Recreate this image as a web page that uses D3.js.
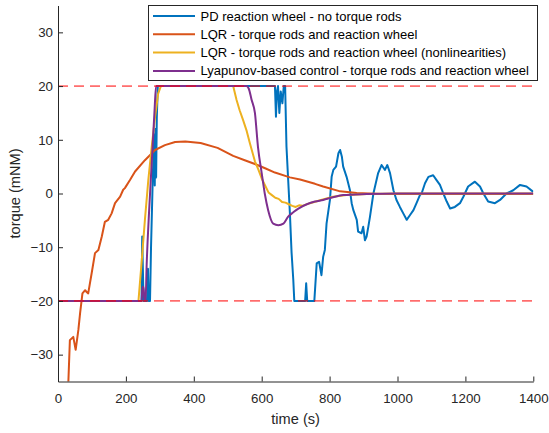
<!DOCTYPE html>
<html>
<head>
<meta charset="utf-8">
<script src="https://cdn.jsdelivr.net/npm/d3@7"></script>
<style>
  body { margin: 0; background: #fff; }
  svg { display: block; font-family: "Liberation Sans", Arial, sans-serif; }
</style>
</head>
<body>
<div id="chart"></div>
<script>
// series data (time in s, torque in mNM)
var pdT = [0, 246, 248, 250, 252, 254, 262, 265, 267, 271, 274, 278, 281, 283, 285, 287, 289, 291, 294, 636, 639, 642, 645, 648, 652, 656, 661, 665, 669, 673, 678, 683, 688, 693, 696, 728, 731, 734, 755, 762, 769, 776, 781, 786, 791, 801, 806, 811, 819, 826, 831, 836, 840, 850, 860, 865, 870, 880, 884, 894, 899, 904, 909, 914, 919, 929, 936, 943, 953, 963, 970, 978, 988, 997, 1007, 1017, 1027, 1037, 1047, 1056, 1066, 1071, 1081, 1091, 1105, 1115, 1125, 1135, 1145, 1155, 1169, 1184, 1194, 1208, 1228, 1243, 1253, 1267, 1287, 1302, 1321, 1341, 1361, 1380, 1400];
var pdV = [-20, -20, -8, -14, -20, -20, -20, -14, -20, -20, -10, 0, 7, 11, 1.5, 12, 3, 14, 20, 20, 20, 14.3, 19, 20, 15, 19, 16.8, 20, 20, 8.7, 2.5, -3.6, -11, -16, -20, -20, -16.7, -20, -20, -13, -12.7, -15.2, -11.8, -10.5, -5.6, -1.2, 3.1, 4.4, 5, 7.5, 8.1, 6.9, 5, 3.1, 0.6, -1.8, -3.1, -4.9, -7.1, -7.4, -6.2, -8.7, -8, -6.2, -4.3, 0, 1.9, 3.8, 5.3, 4.4, 5.3, 3.8, 0.6, -1.2, -2.5, -3.7, -4.9, -4, -3.1, -1.8, -0.3, 0, 1.9, 3.1, 3.4, 2.5, 1.6, 0, -1.5, -2.8, -2.5, -1.8, -0.6, 1.3, 2.2, 1.3, 0, -1.5, -1.8, -1.2, 0, 0.6, 1.6, 1.3, 0.3];

var lqrT = [28, 30, 35, 45, 52, 60, 65, 72, 80, 85, 89, 99, 109, 119, 129, 138, 148, 158, 168, 183, 192, 197, 212, 227, 256, 286, 315, 345, 375, 420, 470, 516, 550, 580, 610, 639, 683, 713, 757, 781, 831, 880, 950, 1400];
var lqrV = [-40, -36, -27.3, -26.7, -29.1, -25.4, -22.3, -18.6, -18, -18.4, -18.6, -14.9, -11.1, -10.5, -8, -5.3, -4.9, -3.7, -1.8, -0.6, 0.7, 1, 2.5, 4.1, 6.2, 8.1, 9, 9.6, 9.7, 9.4, 8.5, 7, 6.2, 5.5, 4.7, 3.9, 3, 2.6, 1.8, 1.3, 0.4, 0.1, -0.1, -0.1];

var lqrNlT = [0, 237, 246, 256, 266, 276, 286, 295, 303, 516, 526, 535, 545, 555, 565, 580, 590, 600, 610, 620, 630, 640, 650, 660, 670, 680, 690, 700, 710, 720, 742, 760, 780, 810, 850, 909, 1000, 1400];
var lqrNlV = [-20, -20, -13, -4.9, 2.5, 8.7, 14.3, 18.6, 20, 20, 17.4, 15.5, 13.7, 11.8, 9.4, 6, 4.5, 2.8, 1.5, 0.2, -0.3, -0.8, -1, -1.6, -1.7, -2, -2.3, -2.5, -2.2, -2.3, -1.8, -1.5, -1.1, -0.6, -0.3, -0.1, 0, 0];

var lyapT = [0, 246, 249, 252, 255, 258, 261, 268, 276, 284, 289, 555, 562, 570, 580, 589, 600, 609, 619, 634, 649, 664, 678, 693, 708, 733, 757, 781, 810, 840, 909, 1000, 1400];
var lyapV = [-20, -20, -17.4, -17.4, -20, -20, -13.6, -3.7, 5.6, 15, 20, 20, 19.5, 17.5, 15, 8.7, 3.8, 0, -3.1, -5.6, -5.9, -5.6, -4.3, -3.5, -2.8, -2, -1.5, -1.2, -0.7, -0.3, -0.1, 0, 0];

var seriesNames = ["PD reaction wheel - no torque rods", "LQR - torque rods and reaction wheel", "LQR - torque rods and reaction wheel (nonlinearities)", "Lyapunov-based control - torque rods and reaction wheel"];
var seriesColors = ["#0072BD", "#D95319", "#EDB120", "#7E2F8E"];
var limitValues = [20, -20];
var xTicks = [0, 200, 400, 600, 800, 1000, 1200, 1400];
var yTicks = [-30, -20, -10, 0, 10, 20, 30];

var W = 549, H = 433;
var margin = {top: 5.5, right: 15.7, bottom: 51.5, left: 58},
  width = W - margin.left - margin.right,
  height = H - margin.top - margin.bottom;

var svg = d3.select("#chart").append("svg")
  .attr("width", W)
  .attr("height", H)
  .append("g")
  .attr("transform", "translate(" + margin.left + "," + margin.top + ")");

var x = d3.scaleLinear().domain([0, 1400]).range([0, width]);
var y = d3.scaleLinear().domain([-35, 35]).range([height, 0]);

svg.append("clipPath").attr("id", "clip")
  .append("rect").attr("width", width).attr("height", height);

function zip(t, v) { return t.map(function(d, i) { return {t: d, v: v[i]}; }); }
var series = [zip(pdT, pdV), zip(lqrT, lqrV), zip(lqrNlT, lqrNlV), zip(lyapT, lyapV)];

var line = d3.line().x(function(d) { return x(d.t); }).y(function(d) { return y(d.v); });

var plot = svg.append("g").attr("clip-path", "url(#clip)");
plot.selectAll(".series")
  .data(series)
  .enter()
  .append("path")
  .attr("d", function(d, i) { return i == 3 ? line.curve(d3.curveMonotoneX)(d) : line.curve(d3.curveLinear)(d); })
  .attr("fill", "none")
  .attr("stroke", function(d, i) { return seriesColors[i]; })
  .attr("stroke-width", 2)
  .attr("stroke-linejoin", "round");

// limit lines
plot.selectAll(".limit")
  .data(limitValues)
  .enter()
  .append("line")
  .attr("x1", x(0))
  .attr("x2", x(1400))
  .attr("y1", function(d) { return y(d); })
  .attr("y2", function(d) { return y(d); })
  .attr("stroke", "#ff0000")
  .attr("stroke-width", 1)
  .attr("stroke-dasharray", "10,6");

// axes
var xAxis = svg.append("g")
  .attr("transform", "translate(0," + height + ")")
  .call(d3.axisBottom(x).tickValues(xTicks).tickFormat(d3.format("d")).tickSizeInner(-5).tickSizeOuter(0).tickPadding(12));
var yAxis = svg.append("g")
  .call(d3.axisLeft(y).tickValues(yTicks).tickFormat(d3.format("d")).tickSizeInner(-5).tickSizeOuter(0).tickPadding(5));

[xAxis, yAxis].forEach(function(a) {
  a.select(".domain").attr("stroke", "#262626");
  a.selectAll(".tick line").attr("stroke", "#262626");
  a.selectAll(".tick text")
    .attr("fill", "#262626")
    .style("font-size", "13.3px")
    .style("font-family", "'Liberation Sans', Arial, sans-serif");
});

svg.append("text")
  .attr("x", width / 2)
  .attr("y", height + 42.5)
  .attr("text-anchor", "middle")
  .attr("fill", "#262626")
  .style("font-size", "14.6px")
  .text("time (s)");

svg.append("text")
  .attr("transform", "translate(" + (20 - margin.left) + "," + (height / 2) + ")rotate(-90)")
  .attr("text-anchor", "middle")
  .attr("fill", "#262626")
  .style("font-size", "14.6px")
  .text("torque (mNM)");

// legend
var legend = svg.append("g").attr("transform", "translate(" + (148.5 - margin.left) + "," + (5.5 - margin.top) + ")");
legend.append("rect")
  .attr("width", 389)
  .attr("height", 75)
  .attr("fill", "#fff")
  .attr("stroke", "#262626")
  .attr("stroke-width", 1);

var items = legend.selectAll(".item")
  .data(seriesNames)
  .enter()
  .append("g")
  .attr("transform", function(d, i) { return "translate(0," + (10.5 + i * 18.3) + ")"; });
items.append("line")
  .attr("x1", 4.5).attr("x2", 46.5)
  .attr("stroke", function(d, i) { return seriesColors[i]; })
  .attr("stroke-width", 2);
items.append("text")
  .attr("x", 52)
  .attr("dy", "0.35em")
  .attr("fill", "#000")
  .style("font-size", "13px")
  .text(function(d) { return d; });
</script>
</body>
</html>
